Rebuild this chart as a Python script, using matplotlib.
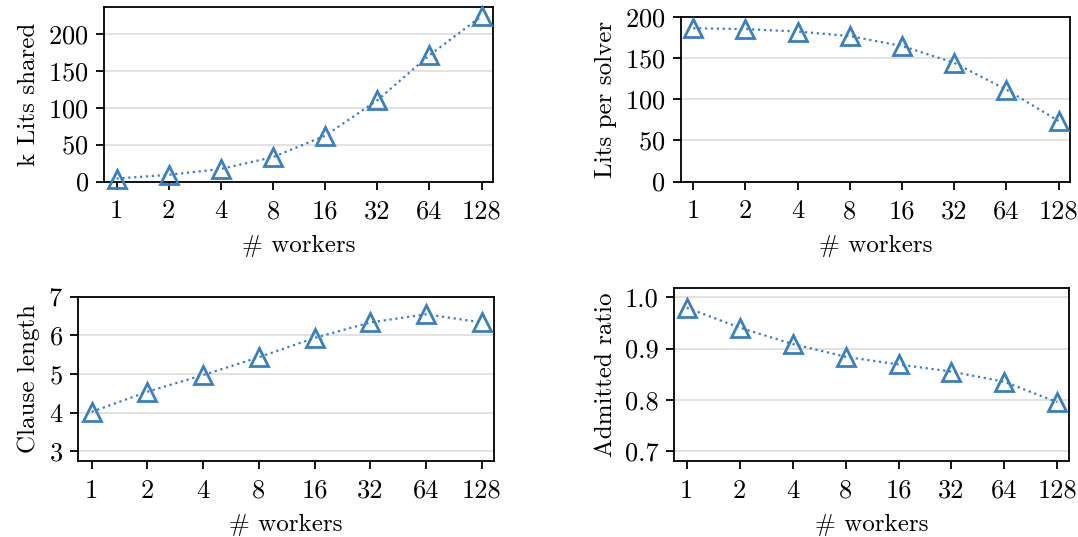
import matplotlib
matplotlib.use("Agg")
import matplotlib.pyplot as plt
import numpy as np

workers = ["1", "2", "4", "8", "16", "32", "64", "128"]
lits_shared_k = [4, 9, 17, 33, 62, 110, 171, 224]
lits_per_solver = [186, 185, 182, 176.5, 164.5, 144, 111.5, 73.5]
clause_length = [4.02, 4.54, 4.97, 5.43, 5.93, 6.33, 6.54, 6.33]
admitted_ratio = [0.980, 0.941, 0.909, 0.884, 0.869, 0.855, 0.835, 0.795]

ylabels = ["k Lits shared", "Lits per solver", "Clause length", "Admitted ratio"]
series = [lits_shared_k, lits_per_solver, clause_length, admitted_ratio]
ylims = [(0, 236), (0, 200), (2.75, 7), (0.68, 1.018)]
yticks = [[0, 50, 100, 150, 200], [0, 50, 100, 150, 200], [3, 4, 5, 6, 7],
          [0.7, 0.8, 0.9, 1.0]]
ytick_labels = [None, None, None, ["0.7", "0.8", "0.9", "1.0"]]

plt.rcParams["font.family"] = "serif"
plt.rcParams["font.serif"] = ["cmr10"]
plt.rcParams["mathtext.fontset"] = "cm"
plt.rcParams["axes.unicode_minus"] = False
plt.rcParams["axes.formatter.use_mathtext"] = True

W, H = 1078, 537
fig = plt.figure(figsize=(W / 100, H / 100), dpi=100)

# axes boxes in pixels: left, right, top, bottom
boxes = [(104, 493, 7.3, 181.5), (680.7, 1070, 16.7, 181.5),
         (78.3, 494, 296.5, 461), (674, 1069, 288.3, 461)]

color = "#3a7fc0"
x = np.arange(len(workers))
for i in range(4):
    l, r, t, b = boxes[i]
    ax = fig.add_axes([l / W, 1 - b / H, (r - l) / W, (b - t) / H])
    ax.plot(x, series[i], linestyle=":", linewidth=1.6, color=color,
            marker="^", markersize=12.5, markerfacecolor="none",
            markeredgecolor=color, markeredgewidth=2.0, clip_on=False, zorder=3)
    ax.set_xlim(-0.24, 7.22)
    ax.set_ylim(*ylims[i])
    ax.set_xticks(x)
    ax.set_xticklabels(workers)
    ax.set_yticks(yticks[i])
    if ytick_labels[i] is not None:
        ax.set_yticklabels(ytick_labels[i])
    ax.yaxis.grid(True, color="#dddddd", linewidth=1.2)
    ax.set_axisbelow(True)
    for s in ax.spines.values():
        s.set_linewidth(1.3)
        s.set_color("black")
    ax.tick_params(axis="both", direction="out", length=6, width=1.3,
                   labelsize=19, pad=5)
    ax.tick_params(axis="x", pad=7)
    ax.set_xlabel("# workers", fontsize=18, labelpad=8)
    ax.set_ylabel(ylabels[i], fontsize=18, labelpad=6)

fig.savefig("out.png", dpi=100)
